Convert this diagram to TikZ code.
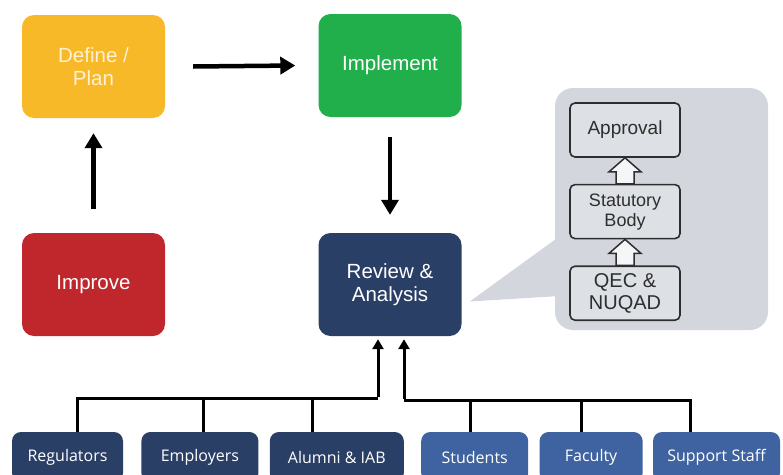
\documentclass[tikz,border=0pt]{standalone}
\usepackage{fontspec}
\setmainfont{Liberation Sans}
\newfontfamily\stakefont{Open Sans}
\usetikzlibrary{arrows.meta,positioning,calc}

\definecolor{planyellow}{HTML}{F8B928}
\definecolor{doneGreen}{HTML}{20AF4B}
\definecolor{fixRed}{HTML}{C0272D}
\definecolor{reviewNavy}{HTML}{2A3F66}
\definecolor{stakeBlue}{HTML}{3F63A0}
\definecolor{calloutGray}{HTML}{D3D7DD}
\definecolor{innerGray}{HTML}{DDE0E4}
\definecolor{inkGray}{HTML}{2E2E2E}

\tikzset{
	stepbox/.style={rounded corners=12pt, minimum width=143pt, minimum height=103pt,
		align=center, text=white, inner sep=0pt, font=\fontsize{20.5}{23}\selectfont},
	stagebox/.style={draw=inkGray, line width=1.6pt, fill=innerGray, rounded corners=5pt,
		minimum width=110pt, minimum height=54pt, align=center, text=inkGray,
		inner sep=0pt, font=\fontsize{19}{21}\selectfont},
	stakebox/.style={rounded corners=9pt, minimum height=50pt, inner sep=0pt,
		text=white, font=\stakefont\fontsize{16}{18}\selectfont},
	flow/.style={line width=4.5pt, -{Triangle[length=15pt,width=17pt]}},
	bus/.style={line width=3pt},
	busup/.style={line width=3pt, -{Triangle[length=10pt,width=11pt]}},
	hollow/.style={draw=inkGray, line width=1.5pt, fill=white!70!innerGray, line join=miter}
}

\begin{document}
\begin{tikzpicture}[x=1pt,y=-1pt]
	\useasboundingbox (0,0) rectangle (783,474);
	\clip (0,0) rectangle (783,474);

	% cycle
	\node[stepbox, fill=planyellow, text=white!80!planyellow] (define) at (93.5,66.5) {Define /\\Plan};
	\node[stepbox, fill=doneGreen] (implement) at (390,65.5) {Implement};
	\node[stepbox, fill=fixRed] (improve) at (93.5,284.5) {Improve};
	\node[stepbox, fill=reviewNavy] (review) at (390,284.5) {Review \&\\Analysis};

	\draw[flow] ([xshift=28pt]define.east) -- ([xshift=-23pt]implement.west);
	\draw[flow] ([yshift=-20pt]implement.south) -- ([yshift=18pt]review.north);
	\draw[flow] ([yshift=24pt]improve.north) -- ([yshift=-15pt]define.south);

	% callout
	\fill[calloutGray] ([xshift=8pt,yshift=-17pt]review.east) -- (560,236) -- (560,296) -- cycle;
	\fill[calloutGray, rounded corners=18pt] (555,88) rectangle (768,330);

	\node[stagebox] (approval) at (625,130) {Approval};
	\node[stagebox, below=26pt of approval, font=\fontsize{18}{20}\selectfont] (statutory) {Statutory\\Body};
	\node[stagebox, below=26pt of statutory, font=\fontsize{20}{22}\selectfont] (qec) {QEC \&\\NUQAD};

	\foreach \a/\b in {qec/statutory, statutory/approval}
		\draw[hollow] ($(\a.north)+(-9,0)$) -- ($(\b.south)+(-9,14)$) -- ($(\b.south)+(-16,14)$)
			-- (\b.south) -- ($(\b.south)+(16,14)$) -- ($(\b.south)+(9,14)$)
			-- ($(\a.north)+(9,0)$) -- cycle;

	% stakeholders
	\node[stakebox, fill=reviewNavy, minimum width=111pt] (reg) at (67.5,457) {Regulators};
	\node[stakebox, fill=reviewNavy, minimum width=117pt, right=18pt of reg] (emp) {Employers};
	\node[stakebox, fill=reviewNavy, minimum width=134pt, right=11pt of emp] (alumni) {Alumni \& IAB};
	\node[stakebox, fill=stakeBlue, minimum width=107pt, right=17pt of alumni] (students) {Students};
	\node[stakebox, fill=stakeBlue, minimum width=103pt, right=11pt of students] (faculty) {Faculty};
	\node[stakebox, fill=stakeBlue, minimum width=127pt, right=10pt of faculty] (support) {Support Staff};

	\coordinate (ljoin) at (378,398);
	\coordinate (rjoin) at (404,400);
	\draw[bus] (77,0 |- reg.north) |- (ljoin);
	\draw[bus] (203,0 |- emp.north) -- (203,398);
	\draw[bus] (312,0 |- alumni.north) -- (312,398);
	\draw[bus] (690,0 |- support.north) |- (rjoin);
	\draw[bus] (470,0 |- students.north) -- (470,400);
	\draw[bus] (581,0 |- faculty.north) -- (581,400);
	\draw[busup] ([yshift=1.5pt]ljoin) -- ([yshift=-3pt]ljoin |- review.south);
	\draw[busup] ([yshift=1.5pt]rjoin) -- ([yshift=-3pt]rjoin |- review.south);
\end{tikzpicture}
\end{document}
